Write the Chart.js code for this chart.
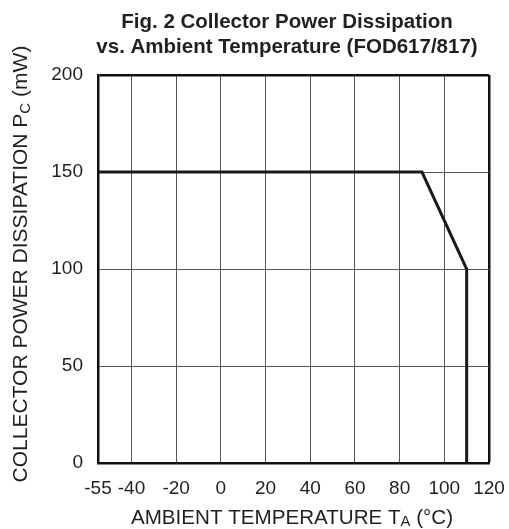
<!DOCTYPE html>
<html lang="en">

<head>
    <meta charset="UTF-8">
    <title>Fig. 2 Collector Power Dissipation vs. Ambient Temperature</title>
    <style>
        html, body { margin: 0; padding: 0; background: #fff; }
        #wrap { width: 509px; height: 529px; position: relative; }
    </style>
</head>

<body>
    <div id="wrap">
        <canvas id="myChart"></canvas>
    </div>

    <script src="https://cdn.jsdelivr.net/npm/chart.js"></script>
    <script>
        // data
        const tempA = [-55, 90, 110, 110];
        const powerPc = [150, 150, 100, 0];
        const xTicks = [-55, -40, -20, 0, 20, 40, 60, 80, 100, 120];
        const yTicks = [0, 50, 100, 150, 200];
        const titleLines = ['Fig. 2 Collector Power Dissipation', 'vs. Ambient Temperature (FOD617/817)'];

        const FONT = '"Liberation Sans", Arial, Helvetica, sans-serif';
        const INK = '#231f20';

        // draw a line of text where some pieces are subscripts
        function drawRich(c, parts, x, y, size) {
            let total = 0;
            parts.forEach(p => {
                c.font = (p.sub ? size * 0.72 : size) + 'px ' + FONT;
                p.w = c.measureText(p.t).width;
                total += p.w;
            });
            let px = x - total / 2;
            parts.forEach(p => {
                c.font = (p.sub ? size * 0.72 : size) + 'px ' + FONT;
                c.fillText(p.t, px, y + (p.sub ? size * 0.12 : 0));
                px += p.w;
            });
        }

        const textPlugin = {
            id: 'texts',
            afterDraw(chart) {
                const c = chart.ctx;
                c.save();
                c.fillStyle = INK;
                c.textBaseline = 'alphabetic';
                c.textAlign = 'left';

                // title
                c.font = 'bold 20.5px ' + FONT;
                titleLines.forEach((t, i) => {
                    const w = c.measureText(t).width;
                    c.fillText(t, 287 - w / 2, 28 + i * 25);
                });

                // x axis title
                drawRich(c, [{ t: 'AMBIENT TEMPERATURE T' }, { t: 'A', sub: true }, { t: ' (°C)' }], 292, 524, 20.6);

                // y axis title
                c.translate(27, 264);
                c.rotate(-Math.PI / 2);
                drawRich(c, [{ t: 'COLLECTOR POWER DISSIPATION P' }, { t: 'C', sub: true }, { t: ' (mW)' }], 0, 0, 21);
                c.restore();
            }
        };

        const ctx = document.getElementById('myChart');

        new Chart(ctx, {
            type: 'scatter',
            data: {
                datasets: [{
                    data: tempA.map((t, i) => ({ x: t, y: powerPc[i] })),
                    showLine: true,
                    borderColor: '#1a1a1a',
                    borderWidth: 3,
                    pointRadius: 0,
                    fill: false,
                    tension: 0
                }]
            },
            options: {
                responsive: true,
                maintainAspectRatio: false,
                animation: false,
                layout: { padding: { top: 75, right: 20, left: 0, bottom: 0 } },
                plugins: {
                    legend: { display: false },
                    title: { display: false },
                    tooltip: { enabled: false }
                },
                scales: {
                    x: {
                        type: 'linear',
                        min: -55,
                        max: 120,
                        afterBuildTicks: s => { s.ticks = xTicks.map(v => ({ value: v })); },
                        afterFit: s => { s.height = 66; },
                        ticks: {
                            autoSkip: false,
                            maxRotation: 0,
                            padding: 3,
                            color: INK,
                            font: { family: FONT, size: 19, lineHeight: 2.35 }
                        },
                        grid: {
                            drawTicks: false,
                            color: c => c.tick && c.tick.value === 120 ? '#111' : '#555',
                            lineWidth: c => c.tick && c.tick.value === 120 ? 2.5 : 1
                        },
                        border: { color: '#111', width: 2.5 }
                    },
                    y: {
                        min: 0,
                        max: 200,
                        afterBuildTicks: s => { s.ticks = yTicks.map(v => ({ value: v })); },
                        afterFit: s => { s.width = 98; },
                        ticks: {
                            padding: 15,
                            color: INK,
                            font: { family: FONT, size: 19 }
                        },
                        grid: {
                            drawTicks: false,
                            color: c => c.tick && c.tick.value === 200 ? '#111' : '#555',
                            lineWidth: c => c.tick && c.tick.value === 200 ? 2.5 : 1
                        },
                        border: { color: '#111', width: 2.5 }
                    }
                }
            },
            plugins: [textPlugin]
        });
    </script>
</body>

</html>
